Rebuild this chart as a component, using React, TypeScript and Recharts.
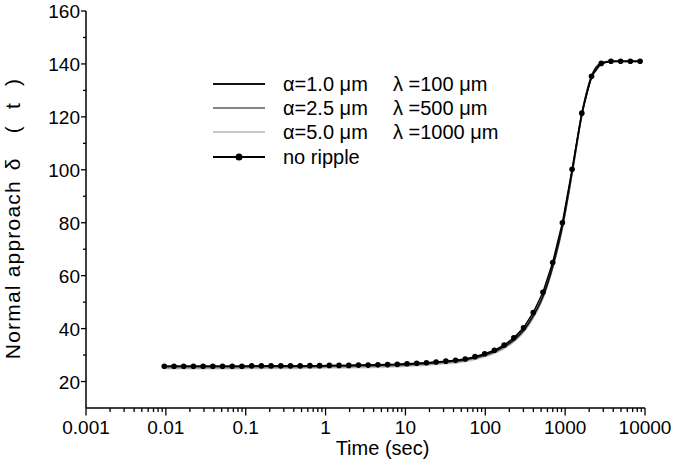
import React from "react";
import { LineChart, Line, XAxis, YAxis, Legend, Label } from "recharts";

// time points (sec)
const TIME = [
  0.00955, 0.01264, 0.01672, 0.02212, 0.02927, 0.03873, 0.05124, 0.06779, 0.08969, 0.1187,
  0.157, 0.2077, 0.2749, 0.3637, 0.4812, 0.6368, 0.8424, 1.115, 1.475, 1.951,
  2.582, 3.416, 4.52, 5.981, 7.913, 10.47, 13.85, 18.33, 24.25, 32.09,
  42.46, 56.18, 74.33, 98.35, 130.1, 172.2, 227.8, 301.4, 398.8, 527.7,
  698.2, 923.8, 1222, 1617, 2140, 2831, 3746, 4957, 6558, 8678,
];

const NO_RIPPLE = [
  25.8, 25.8, 25.8, 25.8, 25.8, 25.8, 25.8, 25.8, 25.8, 25.9,
  25.9, 25.9, 25.9, 25.9, 25.9, 26.0, 26.0, 26.1, 26.1, 26.1,
  26.2, 26.2, 26.3, 26.4, 26.5, 26.7, 26.9, 27.1, 27.4, 27.7,
  28.0, 28.5, 29.4, 30.5, 31.8, 33.8, 36.5, 40.3, 46.1, 53.7,
  65.0, 80.0, 100.2, 121.4, 135.3, 140.2, 141.0, 141.0, 141.0, 141.0,
];

const ALPHA_1 = [
  25.7, 25.7, 25.7, 25.7, 25.7, 25.7, 25.7, 25.7, 25.7, 25.8,
  25.8, 25.8, 25.8, 25.8, 25.8, 25.9, 25.9, 26.0, 26.0, 26.0,
  26.1, 26.1, 26.2, 26.3, 26.4, 26.5, 26.7, 26.9, 27.2, 27.5,
  27.8, 28.3, 29.1, 30.1, 31.4, 33.3, 35.8, 39.4, 44.9, 52.3,
  63.6, 78.8, 99.3, 121.0, 135.3, 140.3, 141.0, 141.0, 141.0, 141.0,
];

const ALPHA_25 = [
  25.3, 25.3, 25.3, 25.3, 25.3, 25.3, 25.3, 25.3, 25.3, 25.4,
  25.4, 25.4, 25.4, 25.4, 25.4, 25.5, 25.5, 25.6, 25.6, 25.6,
  25.7, 25.7, 25.8, 25.9, 26.0, 26.2, 26.4, 26.6, 26.9, 27.2,
  27.5, 28.0, 28.8, 29.8, 31.0, 32.9, 35.4, 39.0, 44.5, 51.9,
  63.2, 78.4, 99.0, 120.8, 135.0, 140.2, 141.0, 141.0, 141.0, 141.0,
];

const ALPHA_50 = [
  24.9, 24.9, 24.9, 24.9, 24.9, 24.9, 24.9, 24.9, 24.9, 25.0,
  25.0, 25.0, 25.0, 25.0, 25.0, 25.1, 25.1, 25.2, 25.2, 25.2,
  25.3, 25.3, 25.4, 25.5, 25.6, 25.8, 26.0, 26.2, 26.5, 26.8,
  27.0, 27.6, 28.4, 29.4, 30.7, 32.5, 35.0, 38.6, 44.0, 51.5,
  62.8, 78.0, 98.6, 120.5, 134.8, 140.1, 141.0, 141.0, 141.0, 141.0,
];

const X_DECADES = [0.001, 0.01, 0.1, 1, 10, 100, 1000, 10000];
const X_MINOR_MULT = [2, 3, 4, 5, 6, 7, 8, 9];
const Y_TICKS = [20, 30, 40, 50, 60, 70, 80, 90, 100, 110, 120, 130, 140, 150, 160];
const Y_LABELS = [20, 40, 60, 80, 100, 120, 140, 160];

const SERIES = [
  { key: "a50", alpha: "α=5.0 μm", lambda: "λ =1000 μm", color: "#c8c8c8" },
  { key: "a25", alpha: "α=2.5 μm", lambda: "λ =500 μm", color: "#858585" },
  { key: "a1", alpha: "α=1.0 μm", lambda: "λ =100 μm", color: "#111111" },
];

const FONT = "'Liberation Sans', Arial, Helvetica, sans-serif";

const data = TIME.map((t, i) => ({
  t,
  nr: NO_RIPPLE[i],
  a1: ALPHA_1[i],
  a25: ALPHA_25[i],
  a50: ALPHA_50[i],
}));

const xTicks = [
  ...X_DECADES,
  ...X_DECADES.slice(0, -1).flatMap((d) => X_MINOR_MULT.map((m) => +(d * m).toPrecision(3))),
].sort((a, b) => a - b);

const X_TICK_SIZE = 8;
const Y_TICK_SIZE = 5;

function XTick(props: any) {
  const { x, y, payload } = props;
  const axisY = y - X_TICK_SIZE;
  const major = X_DECADES.includes(payload.value);
  return (
    <g>
      <line x1={x} x2={x} y1={axisY} y2={axisY + (major ? 7.5 : 4)} stroke="#000" strokeWidth={1.3} />
      {major && (
        <text x={x} y={axisY + 26} textAnchor="middle" fontSize={19} fontFamily={FONT} fill="#000">
          {String(payload.value)}
        </text>
      )}
    </g>
  );
}

function YTick(props: any) {
  const { x, y, payload } = props;
  const axisX = x + Y_TICK_SIZE;
  const major = Y_LABELS.includes(payload.value);
  return (
    <g>
      <line x1={axisX - (major ? 5 : 3)} x2={axisX} y1={y} y2={y} stroke="#000" strokeWidth={1.3} />
      {major && (
        <text x={axisX - 6} y={y + 7} textAnchor="end" fontSize={19} fontFamily={FONT} fill="#000">
          {payload.value}
        </text>
      )}
    </g>
  );
}

function LegendBox() {
  const rows = [...SERIES].reverse();
  return (
    <svg width={320} height={100} style={{ display: "block" }}>
      {rows.map((s, i) => {
        const cy = 14 + i * 24;
        return (
          <g key={s.key}>
            <line x1={8} x2={60} y1={cy} y2={cy} stroke={s.color} strokeWidth={1.8} />
            <text x={78} y={cy + 7} fontSize={20} fontFamily={FONT} fill="#000">{s.alpha}</text>
            <text x={188} y={cy + 7} fontSize={20} fontFamily={FONT} fill="#000">{s.lambda}</text>
          </g>
        );
      })}
      <line x1={8} x2={60} y1={87} y2={87} stroke="#000" strokeWidth={2} />
      <circle cx={34} cy={87} r={3.5} fill="#000" />
      <text x={78} y={94} fontSize={20} fontFamily={FONT} fill="#000">no ripple</text>
    </svg>
  );
}

export default function App() {
  return (
    <div style={{ position: "absolute", left: 0, top: 0, width: 679, height: 461, background: "#fff" }}>
      <LineChart width={679} height={461} data={data} margin={{ top: 11, right: 34, bottom: 0, left: 26 }}>
        <XAxis
          dataKey="t"
          type="number"
          scale="log"
          domain={[0.001, 10000]}
          allowDataOverflow
          ticks={xTicks}
          interval={0}
          height={53}
          tickSize={X_TICK_SIZE}
          tickMargin={0}
          tickLine={false}
          tick={<XTick />}
          axisLine={{ stroke: "#000", strokeWidth: 1.5 }}
        >
          <Label
            content={(p: any) => {
              const vb = p.viewBox;
              const cx = vb.x + vb.width / 2 + 17;
              return (
                <text x={cx} y={vb.y + 47} textAnchor="middle" fontSize={20} fontFamily={FONT} fill="#000">
                  Time (sec)
                </text>
              );
            }}
          />
        </XAxis>
        <YAxis
          type="number"
          domain={[10, 160]}
          ticks={Y_TICKS}
          interval={0}
          width={60}
          tickSize={Y_TICK_SIZE}
          tickMargin={0}
          tickLine={false}
          tick={<YTick />}
          axisLine={{ stroke: "#000", strokeWidth: 1.5 }}
        >
          <Label
            content={(p: any) => {
              const vb = p.viewBox;
              const lx = vb.x - 6;
              const ly = vb.y + vb.height / 2 + 9;
              return (
                <text
                  x={lx}
                  y={ly}
                  transform={`rotate(-90 ${lx} ${ly})`}
                  textAnchor="middle"
                  fontSize={21}
                  fontFamily={FONT}
                  fill="#000"
                  letterSpacing={1.2}
                >
                  <tspan>Normal approach</tspan>
                  <tspan dx={10}>δ</tspan>
                  <tspan dx={24}>(</tspan>
                  <tspan dx={16}>t</tspan>
                  <tspan dx={16}>)</tspan>
                </text>
              );
            }}
          />
        </YAxis>
        <Legend
          layout="horizontal"
          verticalAlign="middle"
          align="center"
          wrapperStyle={{ left: 205, top: 70, width: 320, height: 100 }}
          content={() => <LegendBox />}
        />
        {SERIES.map((s) => (
          <Line
            key={s.key}
            dataKey={s.key}
            type="monotone"
            stroke={s.color}
            strokeWidth={1.8}
            dot={false}
            isAnimationActive={false}
          />
        ))}
        <Line
          dataKey="nr"
          type="linear"
          stroke="#000"
          strokeWidth={1.5}
          dot={{ r: 2.8, fill: "#000", stroke: "none" }}
          isAnimationActive={false}
        />
      </LineChart>
    </div>
  );
}
